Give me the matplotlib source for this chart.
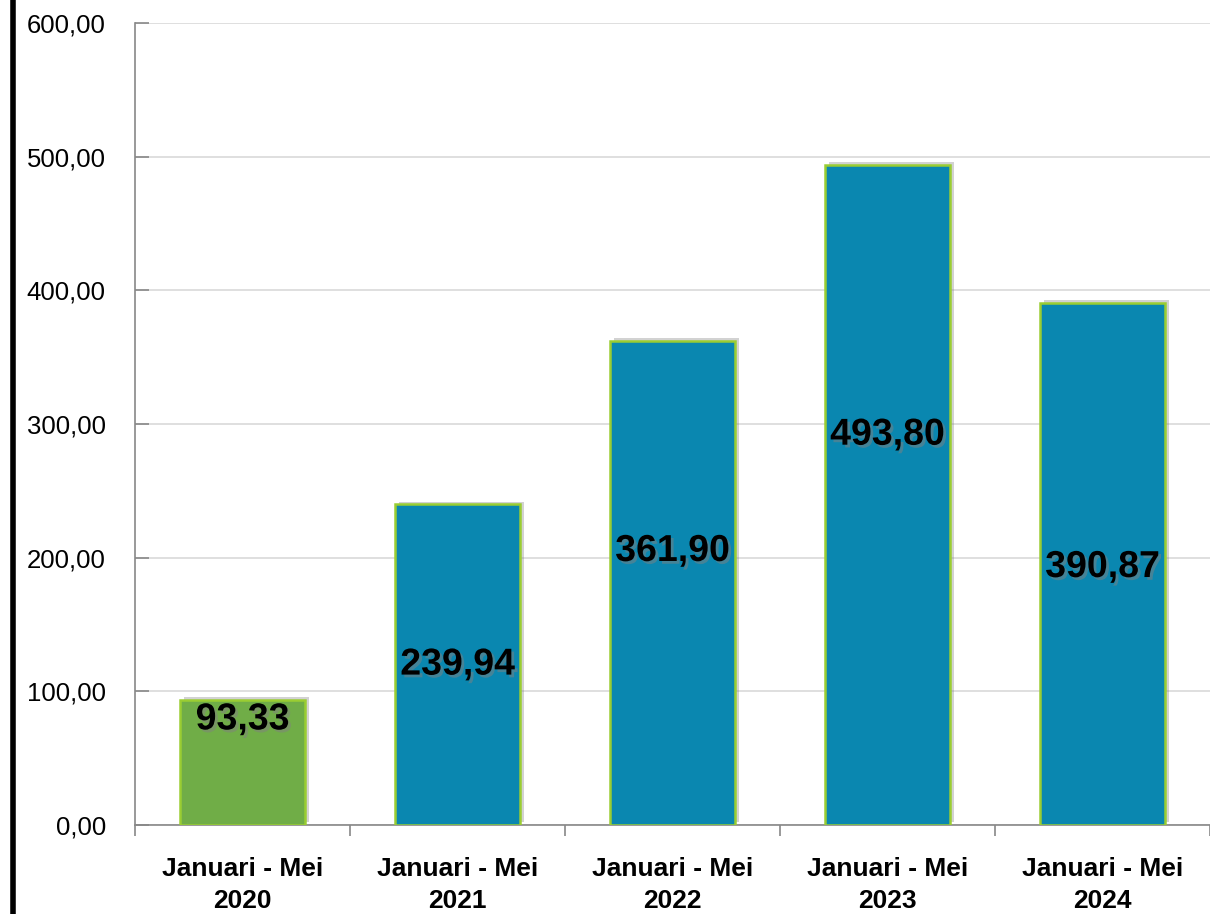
import matplotlib
matplotlib.use('Agg')
from matplotlib import pyplot as plt
from matplotlib import patheffects as pe
from matplotlib.lines import Line2D
import numpy as np

# Data
categories = ['Januari - Mei\n2020', 'Januari - Mei\n2021', 'Januari - Mei\n2022',
              'Januari - Mei\n2023', 'Januari - Mei\n2024']
values = [93.33, 239.94, 361.90, 493.80, 390.87]
value_labels = ['93,33', '239,94', '361,90', '493,80', '390,87']
label_y = [79, 120, 205, 292, 193]  # where the value labels sit
yticks = [0, 100, 200, 300, 400, 500, 600]

# Styles
bar_colors = ['#70AD47', '#0A87B0', '#0A87B0', '#0A87B0', '#0A87B0']
edge_color = '#9ACD32'
plt.rcParams['font.family'] = ['Liberation Sans', 'DejaVu Sans']

fig = plt.figure(figsize=(12.1, 9.14), dpi=100)
ax = fig.add_axes([0.1116, 0.0974, 0.8884, 0.8774])

x = np.arange(len(values))
shadow = [pe.SimplePatchShadow(offset=(3, 2), shadow_rgbFace='gray', alpha=0.35),
          pe.Normal()]
bars = ax.bar(x, values, width=0.58, color=bar_colors, edgecolor=edge_color,
              linewidth=1.8, zorder=3)
for b in bars:
    b.set_path_effects(shadow)

text_shadow = [pe.SimplePatchShadow(offset=(2, -2), shadow_rgbFace='gray', alpha=0.5),
               pe.Normal()]
for xi, yv, lab in zip(x, label_y, value_labels):
    ax.text(xi, yv, lab, ha='center', va='center', fontsize=27, fontweight='bold',
            color='black', zorder=5, path_effects=text_shadow)

ax.set_xlim(-0.5, len(values) - 0.5)
ax.set_ylim(0, 600)
ax.set_yticks(yticks)
ax.set_yticklabels([f'{v:.2f}'.replace('.', ',') for v in yticks], fontsize=18.5)
ax.yaxis.grid(True, color='#D9D9D9', linewidth=1.2, zorder=0)
ax.tick_params(axis='y', direction='in', length=10, color='#888888', width=1.2, pad=21)

ax.set_xticks(x)
ax.set_xticklabels(categories, fontsize=19, fontweight='bold', linespacing=1.45)
ax.set_xticks(np.arange(len(values) + 1) - 0.5, minor=True)
ax.tick_params(axis='x', which='major', length=0, pad=23)
ax.tick_params(axis='x', which='minor', direction='out', length=8, color='#888888', width=1.2)

for s in ['top', 'right']:
    ax.spines[s].set_visible(False)
for s in ['left', 'bottom']:
    ax.spines[s].set_color('#888888')
    ax.spines[s].set_linewidth(1.2)

# black bar at the left edge
fig.add_artist(Line2D([0.0105, 0.0105], [0, 1], color='black', linewidth=4,
                      transform=fig.transFigure))

fig.savefig('out.png', dpi=100)
